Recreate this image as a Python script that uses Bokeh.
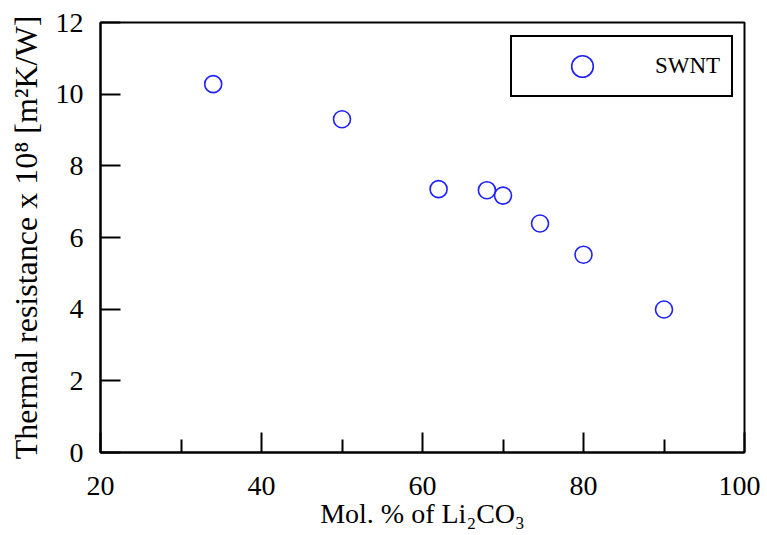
from bokeh.plotting import figure
from bokeh.models import FixedTicker, Range1d, Legend, LegendItem, ColumnDataSource
from bokeh.embed import file_html
from bokeh.resources import INLINE

# Data
mol_pct_li2co3 = [34, 50, 62, 68, 70, 74.6, 80, 90]
thermal_resistance = [10.28, 9.30, 7.35, 7.32, 7.17, 6.39, 5.52, 3.99]
series_name = "SWNT"
x_ticks = [20, 40, 60, 80, 100]
x_minor_ticks = [30, 50, 70, 90]
y_ticks = [0, 2, 4, 6, 8, 10, 12]

FONT = "Liberation Serif"

p = figure(width=760, height=533, output_backend="svg", toolbar_location=None,
           x_range=Range1d(20, 100), y_range=Range1d(0, 12),
           min_border_left=100, min_border_right=16, min_border_top=22, min_border_bottom=81)
p.background_fill_color = "white"
p.border_fill_color = "white"
p.outline_line_color = "black"
p.outline_line_width = 2
p.grid.visible = False

src = ColumnDataSource(dict(x=mol_pct_li2co3, y=thermal_resistance))
r = p.scatter("x", "y", source=src, size=17, marker="circle", fill_color=None,
              line_color="#1f1fff", line_width=1.6)

# Axes
p.xaxis.ticker = FixedTicker(ticks=x_ticks, minor_ticks=x_minor_ticks)
p.yaxis.ticker = FixedTicker(ticks=y_ticks)
for ax in (p.xaxis[0], p.yaxis[0]):
    ax.axis_line_color = "black"
    ax.axis_line_width = 2
    ax.major_tick_in = 20
    ax.major_tick_out = 0
    ax.major_tick_line_width = 2
    ax.major_tick_line_color = "black"
    ax.major_label_text_font = FONT
    ax.major_label_text_font_size = "28px"
    ax.major_label_text_color = "black"
    ax.axis_label_text_font = FONT
    ax.axis_label_text_font_style = "normal"
    ax.axis_label_text_color = "black"
p.xaxis.minor_tick_in = 13
p.xaxis.minor_tick_out = 0
p.xaxis.minor_tick_line_width = 2
p.xaxis.minor_tick_line_color = "black"
p.yaxis.minor_tick_line_color = None
p.xaxis.major_label_standoff = 24
p.yaxis.major_label_standoff = 17

p.xaxis.axis_label = "Mol. % of Li\u2082CO\u2083"
p.xaxis.axis_label_text_font_size = "28px"
p.xaxis.axis_label_standoff = 0
p.yaxis.axis_label = "Thermal resistance x 10\u2078 [m\u00b2K/W]"
p.yaxis.axis_label_text_font_size = "32px"
p.yaxis.axis_label_standoff = 9

legend = Legend(items=[LegendItem(label=series_name, renderers=[r])],
                location=(410, 355), margin=0, padding=2, spacing=0,
                glyph_width=136, glyph_height=54, label_standoff=5, label_width=74,
                border_line_color="black", border_line_width=2, border_line_alpha=1,
                label_text_font=FONT, label_text_font_size="23px",
                label_text_color="black", background_fill_alpha=1)
p.add_layout(legend)

open("out.html", "w").write(file_html(p, INLINE))
